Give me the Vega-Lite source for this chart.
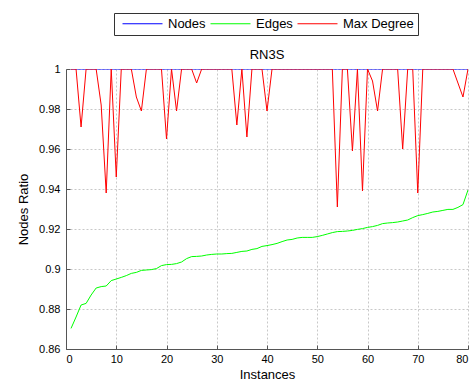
{
  "$schema": "https://vega.github.io/schema/vega-lite/v6.json",
  "width": 402,
  "height": 280,
  "autosize": "none",
  "padding": {"left": 66, "top": 69, "right": 8, "bottom": 33},
  "background": "white",
  "title": {"text": "RN3S", "font": "Liberation Sans", "fontSize": 13, "fontWeight": "normal", "color": "#000", "offset": -49},
  "data": {
    "values": [
      {"i": 1, "Nodes": 1, "Edges": 0.8703, "MaxDegree": 1},
      {"i": 2, "Nodes": 1, "Edges": 0.876, "MaxDegree": 1},
      {"i": 3, "Nodes": 1, "Edges": 0.882, "MaxDegree": 0.971},
      {"i": 4, "Nodes": 1, "Edges": 0.8828, "MaxDegree": 1},
      {"i": 5, "Nodes": 1, "Edges": 0.887, "MaxDegree": 1},
      {"i": 6, "Nodes": 1, "Edges": 0.8905, "MaxDegree": 1},
      {"i": 7, "Nodes": 1, "Edges": 0.8912, "MaxDegree": 0.982},
      {"i": 8, "Nodes": 1, "Edges": 0.8915, "MaxDegree": 0.938},
      {"i": 9, "Nodes": 1, "Edges": 0.8942, "MaxDegree": 1},
      {"i": 10, "Nodes": 1, "Edges": 0.895, "MaxDegree": 0.946},
      {"i": 11, "Nodes": 1, "Edges": 0.8958, "MaxDegree": 1},
      {"i": 12, "Nodes": 1, "Edges": 0.8967, "MaxDegree": 1},
      {"i": 13, "Nodes": 1, "Edges": 0.8978, "MaxDegree": 1},
      {"i": 14, "Nodes": 1, "Edges": 0.8983, "MaxDegree": 0.986},
      {"i": 15, "Nodes": 1, "Edges": 0.8993, "MaxDegree": 0.979},
      {"i": 16, "Nodes": 1, "Edges": 0.8995, "MaxDegree": 1},
      {"i": 17, "Nodes": 1, "Edges": 0.8997, "MaxDegree": 1},
      {"i": 18, "Nodes": 1, "Edges": 0.9002, "MaxDegree": 1},
      {"i": 19, "Nodes": 1, "Edges": 0.9017, "MaxDegree": 1},
      {"i": 20, "Nodes": 1, "Edges": 0.9022, "MaxDegree": 0.965},
      {"i": 21, "Nodes": 1, "Edges": 0.9023, "MaxDegree": 1},
      {"i": 22, "Nodes": 1, "Edges": 0.9027, "MaxDegree": 0.979},
      {"i": 23, "Nodes": 1, "Edges": 0.9035, "MaxDegree": 1},
      {"i": 24, "Nodes": 1, "Edges": 0.9052, "MaxDegree": 1},
      {"i": 25, "Nodes": 1, "Edges": 0.9062, "MaxDegree": 1},
      {"i": 26, "Nodes": 1, "Edges": 0.9063, "MaxDegree": 0.993},
      {"i": 27, "Nodes": 1, "Edges": 0.9065, "MaxDegree": 1},
      {"i": 28, "Nodes": 1, "Edges": 0.907, "MaxDegree": 1},
      {"i": 29, "Nodes": 1, "Edges": 0.9073, "MaxDegree": 1},
      {"i": 30, "Nodes": 1, "Edges": 0.9075, "MaxDegree": 1},
      {"i": 31, "Nodes": 1, "Edges": 0.9075, "MaxDegree": 1},
      {"i": 32, "Nodes": 1, "Edges": 0.9077, "MaxDegree": 1},
      {"i": 33, "Nodes": 1, "Edges": 0.9078, "MaxDegree": 1},
      {"i": 34, "Nodes": 1, "Edges": 0.9083, "MaxDegree": 0.972},
      {"i": 35, "Nodes": 1, "Edges": 0.9088, "MaxDegree": 1},
      {"i": 36, "Nodes": 1, "Edges": 0.909, "MaxDegree": 0.966},
      {"i": 37, "Nodes": 1, "Edges": 0.9098, "MaxDegree": 1},
      {"i": 38, "Nodes": 1, "Edges": 0.9102, "MaxDegree": 1},
      {"i": 39, "Nodes": 1, "Edges": 0.9113, "MaxDegree": 1},
      {"i": 40, "Nodes": 1, "Edges": 0.9117, "MaxDegree": 0.979},
      {"i": 41, "Nodes": 1, "Edges": 0.9122, "MaxDegree": 1},
      {"i": 42, "Nodes": 1, "Edges": 0.9128, "MaxDegree": 1},
      {"i": 43, "Nodes": 1, "Edges": 0.9137, "MaxDegree": 1},
      {"i": 44, "Nodes": 1, "Edges": 0.9145, "MaxDegree": 1},
      {"i": 45, "Nodes": 1, "Edges": 0.9148, "MaxDegree": 1},
      {"i": 46, "Nodes": 1, "Edges": 0.9155, "MaxDegree": 1},
      {"i": 47, "Nodes": 1, "Edges": 0.9158, "MaxDegree": 1},
      {"i": 48, "Nodes": 1, "Edges": 0.9158, "MaxDegree": 1},
      {"i": 49, "Nodes": 1, "Edges": 0.9158, "MaxDegree": 1},
      {"i": 50, "Nodes": 1, "Edges": 0.9162, "MaxDegree": 1},
      {"i": 51, "Nodes": 1, "Edges": 0.9168, "MaxDegree": 1},
      {"i": 52, "Nodes": 1, "Edges": 0.9175, "MaxDegree": 1},
      {"i": 53, "Nodes": 1, "Edges": 0.9182, "MaxDegree": 1},
      {"i": 54, "Nodes": 1, "Edges": 0.9187, "MaxDegree": 0.931},
      {"i": 55, "Nodes": 1, "Edges": 0.9188, "MaxDegree": 1},
      {"i": 56, "Nodes": 1, "Edges": 0.919, "MaxDegree": 1},
      {"i": 57, "Nodes": 1, "Edges": 0.9193, "MaxDegree": 0.959},
      {"i": 58, "Nodes": 1, "Edges": 0.9198, "MaxDegree": 1},
      {"i": 59, "Nodes": 1, "Edges": 0.9202, "MaxDegree": 0.939},
      {"i": 60, "Nodes": 1, "Edges": 0.9208, "MaxDegree": 1},
      {"i": 61, "Nodes": 1, "Edges": 0.9212, "MaxDegree": 0.994},
      {"i": 62, "Nodes": 1, "Edges": 0.9218, "MaxDegree": 0.979},
      {"i": 63, "Nodes": 1, "Edges": 0.9227, "MaxDegree": 1},
      {"i": 64, "Nodes": 1, "Edges": 0.923, "MaxDegree": 1},
      {"i": 65, "Nodes": 1, "Edges": 0.9232, "MaxDegree": 1},
      {"i": 66, "Nodes": 1, "Edges": 0.9235, "MaxDegree": 1},
      {"i": 67, "Nodes": 1, "Edges": 0.924, "MaxDegree": 0.96},
      {"i": 68, "Nodes": 1, "Edges": 0.9245, "MaxDegree": 1},
      {"i": 69, "Nodes": 1, "Edges": 0.9257, "MaxDegree": 1},
      {"i": 70, "Nodes": 1, "Edges": 0.9267, "MaxDegree": 0.938},
      {"i": 71, "Nodes": 1, "Edges": 0.9272, "MaxDegree": 1},
      {"i": 72, "Nodes": 1, "Edges": 0.9278, "MaxDegree": 1},
      {"i": 73, "Nodes": 1, "Edges": 0.9285, "MaxDegree": 1},
      {"i": 74, "Nodes": 1, "Edges": 0.9288, "MaxDegree": 1},
      {"i": 75, "Nodes": 1, "Edges": 0.9293, "MaxDegree": 1},
      {"i": 76, "Nodes": 1, "Edges": 0.9298, "MaxDegree": 1},
      {"i": 77, "Nodes": 1, "Edges": 0.9298, "MaxDegree": 1},
      {"i": 78, "Nodes": 1, "Edges": 0.9308, "MaxDegree": 0.993},
      {"i": 79, "Nodes": 1, "Edges": 0.9322, "MaxDegree": 0.986},
      {"i": 80, "Nodes": 1, "Edges": 0.9395, "MaxDegree": 1}
    ]
  },
  "transform": [
    {"fold": ["Nodes", "Edges", "MaxDegree"], "as": ["series", "value"]}
  ],
  "mark": {"type": "line", "strokeWidth": 1, "clip": true},
  "encoding": {
    "x": {
      "field": "i", "type": "quantitative",
      "scale": {"domain": [0, 80], "nice": false, "zero": false},
      "axis": {"title": "Instances", "values": [0,10,20,30,40,50,60,70,80], "format": "d", "titlePadding": 4}
    },
    "y": {
      "field": "value", "type": "quantitative",
      "scale": {"domain": [0.86, 1], "nice": false, "zero": false},
      "axis": {"title": "Nodes Ratio", "values": [0.86,0.88,0.9,0.92,0.94,0.96,0.98,1], "labelExpr": "datum.value == 1 ? '1' : datum.value == 0.9 ? '0.9' : format(datum.value, '.2f')", "titlePadding": 8}
    },
    "color": {
      "field": "series", "type": "nominal",
      "scale": {"domain": ["Nodes", "Edges", "MaxDegree"], "range": ["#0000ff", "#00ff00", "#ff0000"]},
      "legend": {
        "title": null, "orient": "none", "legendX": 48, "legendY": -56, "direction": "horizontal",
        "symbolType": "M-4,0H4", "symbolSize": 100, "symbolStrokeWidth": 1,
        "symbolOffset": 18,
        "labelExpr": "datum.value == 'MaxDegree' ? 'Max Degree' : datum.value",
        "labelFont": "Liberation Sans", "labelFontSize": 13, "labelColor": "#000",
        "strokeColor": "#333", "padding": 4, "columnPadding": 0, "labelOffset": 19
      }
    },
    "order": {"field": "i", "type": "quantitative"}
  },
  "config": {
    "view": {"stroke": null},
    "font": "Liberation Sans",
    "axis": {
      "labelFont": "Liberation Sans", "labelFontSize": 11, "labelColor": "#000",
      "titleFont": "Liberation Sans", "titleFontSize": 13, "titleFontWeight": "normal", "titleColor": "#000",
      "domainColor": "#555", "tickColor": "#555", "tickSize": -4, "labelPadding": 8,
      "grid": true, "gridColor": "#c8c8c8", "gridDash": [2, 2], "gridWidth": 1
    },
    "axisY": {"labelPadding": 10}
  }
}
